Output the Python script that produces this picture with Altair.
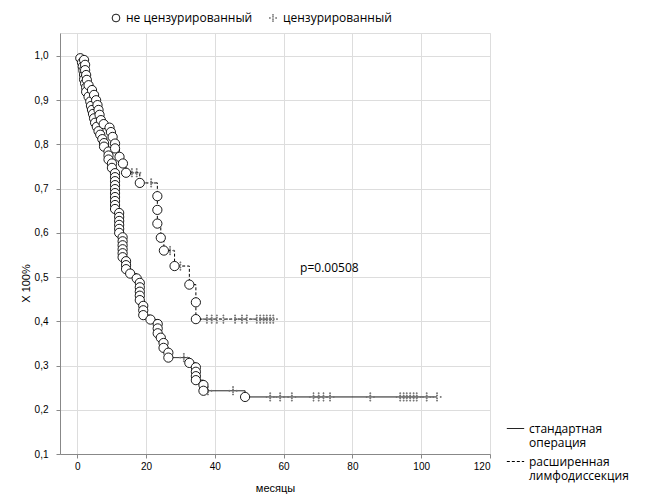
import altair as alt
import pandas as pd

# ---- data ----
GROUPS = ["стандартная операция", "расширенная лимфодиссекция"]
STATUS = ["не цензурированный", "цензурированный"]

std_t = [0.9, 1.4, 1.6, 1.8, 2.0, 2.0, 2.3, 2.6, 2.6, 3.3, 3.8, 4.0, 4.3, 4.6, 4.9, 5.2, 5.7, 6.2, 6.7, 7.3,
         7.8, 7.8, 9.1, 9.1, 9.1, 10.1, 10.1,
         11.0, 11.0, 11.0, 11.0, 11.0, 11.0, 11.0, 11.0, 11.0, 11.0,
         12.2, 12.2, 12.2, 12.2, 12.2, 12.2,
         13.2, 13.2, 13.2, 13.2, 13.2, 13.2,
         14.2, 14.2, 14.2, 15.4, 17.3,
         18.2, 18.2, 18.2, 18.2, 18.2,
         19.2, 19.2, 19.2, 21.3,
         23.4, 23.4, 23.4, 24.3, 25.1, 25.1, 26.5, 26.5,
         32.6, 34.5, 34.5, 34.5, 34.5, 36.7, 36.7, 48.8]
std_s = [0.995, 0.985, 0.976, 0.967, 0.957, 0.947, 0.938, 0.929, 0.919, 0.908, 0.897, 0.887, 0.878, 0.869,
         0.859, 0.849, 0.840, 0.830, 0.822, 0.812, 0.803, 0.795, 0.784, 0.775, 0.766, 0.757, 0.747,
         0.735, 0.726, 0.717, 0.708, 0.699, 0.690, 0.681, 0.672, 0.663, 0.654,
         0.645, 0.636, 0.627, 0.618, 0.609, 0.600,
         0.590, 0.581, 0.572, 0.563, 0.554, 0.545,
         0.536, 0.527, 0.518, 0.508, 0.497,
         0.487, 0.477, 0.467, 0.458, 0.448,
         0.435, 0.425, 0.414, 0.404,
         0.394, 0.384, 0.373, 0.363, 0.351, 0.340, 0.329, 0.318,
         0.306, 0.296, 0.286, 0.276, 0.267, 0.256, 0.243, 0.229]
std_cens_t = [31.0, 38.0, 45.3, 56.1, 59.0, 62.4, 68.7, 70.2, 71.6, 73.5, 85.2, 93.9, 94.9, 95.8,
              96.8, 97.8, 98.7, 101.6, 104.6]
std_cens_s = [0.318, 0.243, 0.243, 0.229, 0.229, 0.229, 0.229, 0.229, 0.229, 0.229, 0.229, 0.229,
              0.229, 0.229, 0.229, 0.229, 0.229, 0.229, 0.229]
std_end_t = 104.6

ext_t = [2.0, 2.3, 2.3, 2.6, 2.8, 3.3, 4.3, 4.9, 5.5, 5.9, 6.2, 6.5, 6.9, 7.7, 9.4, 9.8, 10.3,
         11.0, 11.0, 12.3, 13.3, 14.2, 18.2, 23.3, 23.3, 23.3, 24.3, 25.2, 28.3, 32.6, 34.5, 34.5]
ext_s = [0.991, 0.980, 0.968, 0.957, 0.946, 0.934, 0.923, 0.912, 0.900, 0.889, 0.878, 0.867, 0.855,
         0.846, 0.838, 0.828, 0.817, 0.802, 0.791, 0.772, 0.757, 0.736, 0.713, 0.683, 0.652, 0.621,
         0.589, 0.560, 0.525, 0.483, 0.443, 0.405]
ext_cens_t = [15.9, 17.3, 21.5, 27.0, 30.0, 37.7, 39.1, 40.6, 42.5, 45.9, 47.9, 49.3, 52.2, 53.2,
              54.2, 55.1, 56.1, 57.0]
ext_cens_s = [0.736, 0.736, 0.713, 0.560, 0.525, 0.405, 0.405, 0.405, 0.405, 0.405, 0.405, 0.405,
              0.405, 0.405, 0.405, 0.405, 0.405, 0.405]
ext_end_t = 57.0

p_label = ["p=0.00508"]
p_t = [64.8]
p_s = [0.52]

x_ticks = [0, 20, 40, 60, 80, 100, 120]
y_ticks = [0.1, 0.2, 0.3, 0.4, 0.5, 0.6, 0.7, 0.8, 0.9, 1.0]

# ---- tables ----
def step_rows(group, ts, ss, end_t):
    rows = [(group, 0.0, 1.0)] + [(group, t, s) for t, s in zip(ts, ss)] + [(group, end_t, ss[-1])]
    return [dict(group=g, t=t, s=s, i=i) for i, (g, t, s) in enumerate(rows)]

lines = pd.DataFrame(step_rows(GROUPS[0], std_t, std_s, std_end_t) +
                     step_rows(GROUPS[1], ext_t, ext_s, ext_end_t))

pts = pd.DataFrame(
    [dict(t=t, s=s, status=STATUS[1]) for t, s in zip(std_cens_t + ext_cens_t, std_cens_s + ext_cens_s)] +
    [dict(t=t, s=s, status=STATUS[0]) for t, s in zip(std_t + ext_t, std_s + ext_s)]
)
ann = pd.DataFrame(dict(t=p_t, s=p_s, label=p_label))

CENS_PATH = ("M-0.9,-0.1h0.2v0.2h-0.2z M0.7,-0.1h0.2v0.2h-0.2z "
             "M-0.1,-0.9h0.2v0.2h-0.2z M-0.1,0.7h0.2v0.2h-0.2z "
             "M-0.1,-0.4h0.2v0.2h-0.2z M-0.1,0.2h0.2v0.2h-0.2z")

FONT = "Open Sans"
xs = alt.Scale(domain=[-5, 120], nice=False, zero=False)
ys = alt.Scale(domain=[0.1, 1.052], nice=False, zero=False)

x_enc = alt.X("t:Q", scale=xs, axis=alt.Axis(values=x_ticks, title="месяцы", titleFontWeight="normal",
                                             titleY=34, titleBaseline="middle", grid=True, tickSize=4,
                                             labelPadding=3))
y_enc = alt.Y("s:Q", scale=ys, axis=alt.Axis(values=y_ticks, title="X 100%", titleFontWeight="normal",
                                             labelExpr="replace(format(datum.value, '.1f'), '.', ',')",
                                             titleX=-34, titleY=250, titleBaseline="middle",
                                             grid=True, tickSize=4, labelPadding=8))

line_layer = alt.Chart(lines).mark_line(interpolate="step-after", color="black", strokeWidth=1).encode(
    x=x_enc, y=y_enc, order="i:Q",
    strokeDash=alt.StrokeDash("group:N", scale=alt.Scale(domain=GROUPS, range=[[1, 0], [3, 2]]),
                              legend=alt.Legend(title=None, orient="none", legendX=446, legendY=386,
                                                symbolType="stroke", symbolStrokeColor="black",
                                                symbolSize=300, symbolStrokeWidth=1,
                                                labelExpr="split(datum.label, ' ')",
                                                labelFontSize=12, labelFont=FONT, rowPadding=3)),
)

point_layer = alt.Chart(pts).mark_point(strokeWidth=0.9, opacity=1, fillOpacity=1, size=85).encode(
    x=x_enc, y=y_enc,
    shape=alt.Shape("status:N", scale=alt.Scale(domain=STATUS, range=["circle", CENS_PATH]),
                    legend=alt.Legend(title=None, orient="none", direction="horizontal",
                                      legendX=50, legendY=-21,
                                      symbolStrokeWidth=0.9, labelFont=FONT, labelFontSize=12,
                                      columnPadding=14, symbolSize=60)),
    fill=alt.Fill("status:N", scale=alt.Scale(domain=STATUS, range=["white", "#555555"]), legend=None),
    stroke=alt.Stroke("status:N", scale=alt.Scale(domain=STATUS, range=["black", "#777777"]), legend=None),
)

text_layer = alt.Chart(ann).mark_text(align="left", baseline="middle", font=FONT, fontSize=12,
                                      color="black").encode(x=x_enc, y=y_enc, text="label:N")

chart = alt.layer(line_layer, point_layer, text_layer).properties(
    width=430, height=421,
    autosize=alt.AutoSizeParams(type="none"),
    padding={"left": 52, "top": 25, "right": 154, "bottom": 40},
).configure_view(stroke="black", strokeWidth=1).configure_axis(
    domainColor="black", tickColor="black", gridColor="#d4d4d4", gridWidth=1,
    labelFont=FONT, titleFont=FONT, labelFontSize=13, titleFontSize=12, labelColor="black",
    titleColor="black",
).configure(background="white")

chart.save("out.html", embed_options={"renderer": "svg", "actions": False})
